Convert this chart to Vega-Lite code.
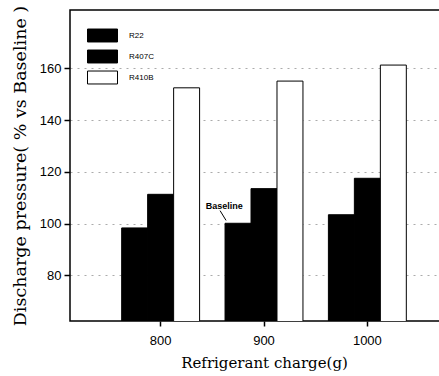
{
  "$schema": "https://vega.github.io/schema/vega-lite/v6.json",
  "autosize": "none",
  "padding": {"left": 70, "top": 10, "right": 0, "bottom": 55},
  "width": 388,
  "height": 311,
  "background": "white",
  "config": {
    "view": {"stroke": "black", "strokeWidth": 1.5},
    "font": "Liberation Sans"
  },
  "datasets": {
    "bars": [
      {"charge": 800, "refrigerant": "R22", "value": 98.3},
      {"charge": 800, "refrigerant": "R407C", "value": 111.3},
      {"charge": 800, "refrigerant": "R410B", "value": 152.5},
      {"charge": 900, "refrigerant": "R22", "value": 100.1},
      {"charge": 900, "refrigerant": "R407C", "value": 113.5},
      {"charge": 900, "refrigerant": "R410B", "value": 155.1},
      {"charge": 1000, "refrigerant": "R22", "value": 103.4},
      {"charge": 1000, "refrigerant": "R407C", "value": 117.5},
      {"charge": 1000, "refrigerant": "R410B", "value": 161.3}
    ],
    "note": [
      {"charge": 900, "label": "Baseline", "y": 106.6, "y1": 105.0, "y2": 101.2}
    ]
  },
  "layer": [
    {
      "data": {"name": "bars"},
      "mark": {"type": "bar", "stroke": "black", "strokeWidth": 1, "clip": true},
      "encoding": {
        "x": {
          "field": "charge", "type": "ordinal",
          "scale": {"domain": [800, 900, 1000], "paddingInner": 0.246, "paddingOuter": 0.5},
          "axis": {
            "title": "Refrigerant charge(g)",
            "titleFont": "DejaVu Serif", "titleFontSize": 15, "titleFontWeight": "normal",
            "titleColor": "black", "titlePadding": 8,
            "labelFont": "Liberation Sans", "labelFontSize": 13, "labelColor": "black",
            "labelAngle": 0, "labelPadding": 8,
            "tickColor": "black", "tickSize": 5, "tickWidth": 1.5,
            "domain": false, "grid": false
          }
        },
        "xOffset": {"field": "refrigerant", "type": "nominal", "sort": ["R22", "R407C", "R410B"], "scale": {"paddingInner": 0, "paddingOuter": 0}},
        "y": {
          "field": "value", "type": "quantitative",
          "scale": {"domain": [62.3, 182.6], "nice": false, "zero": false},
          "axis": {
            "title": "Discharge pressure( % vs Baseline )",
            "values": [80, 100, 120, 140, 160],
            "titleFont": "DejaVu Serif", "titleFontSize": 17.5, "titleFontWeight": "normal",
            "titleColor": "black", "titlePadding": 10,
            "labelFont": "Liberation Sans", "labelFontSize": 13, "labelColor": "black",
            "labelPadding": 3,
            "tickColor": "black", "tickSize": 6, "tickWidth": 1.5,
            "domain": false,
            "grid": true, "gridColor": "#888", "gridDash": [2, 5], "gridOpacity": 0.7
          }
        },
        "fill": {
          "field": "refrigerant", "type": "nominal",
          "scale": {"domain": ["R22", "R407C", "R410B"], "range": ["black", "black", "white"]},
          "legend": {
            "title": null,
            "orient": "none", "legendX": 20, "legendY": 13,
            "padding": 0,
            "symbolType": "M-1.25,-0.54H1.25V0.54H-1.25Z",
            "symbolSize": 576,
            "symbolStrokeColor": "black", "symbolStrokeWidth": 1,
            "rowPadding": 0,
            "labelOffset": 14,
            "labelFont": "Liberation Sans", "labelFontSize": 8, "labelColor": "black"
          }
        }
      }
    },
    {
      "data": {"name": "note"},
      "mark": {"type": "text", "font": "Liberation Sans", "fontSize": 9, "fontWeight": "bold", "color": "black", "align": "center", "baseline": "middle"},
      "encoding": {
        "x": {"field": "charge", "type": "ordinal", "bandPosition": -0.01},
        "y": {"field": "y", "type": "quantitative"},
        "text": {"field": "label"}
      }
    },
    {
      "data": {"name": "note"},
      "mark": {"type": "rule", "color": "black", "strokeWidth": 1},
      "encoding": {
        "x": {"field": "charge", "type": "ordinal", "bandPosition": -0.064},
        "x2": {"field": "charge", "bandPosition": 0.013},
        "y": {"field": "y1", "type": "quantitative"},
        "y2": {"field": "y2"}
      }
    }
  ]
}
